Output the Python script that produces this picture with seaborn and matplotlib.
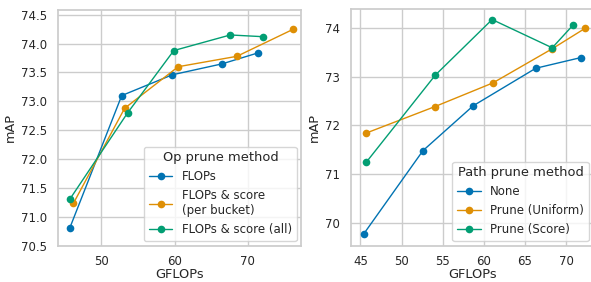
import matplotlib
matplotlib.use("Agg")
import matplotlib.pyplot as plt
import pandas as pd
import seaborn as sns

# Left panel: op pruning
OP_METHODS = ["FLOPs", "FLOPs & score\n(per bucket)", "FLOPs & score (all)"]
OP_GFLOPS = [
    [45.7, 52.8, 59.7, 66.5, 71.4],
    [46.2, 53.2, 60.5, 68.5, 76.2],
    [45.7, 53.6, 59.9, 67.6, 72.1],
]
OP_MAP = [
    [70.80, 73.10, 73.46, 73.65, 73.84],
    [71.23, 72.88, 73.60, 73.78, 74.25],
    [71.30, 72.80, 73.88, 74.15, 74.12],
]

# Right panel: path pruning
PATH_METHODS = ["None", "Prune (Uniform)", "Prune (Score)"]
PATH_GFLOPS = [
    [45.4, 52.6, 58.7, 66.3, 71.8],
    [45.7, 54.0, 61.1, 68.3, 72.3],
    [45.7, 54.1, 61.0, 68.3, 70.8],
]
PATH_MAP = [
    [69.77, 71.48, 72.40, 73.17, 73.39],
    [71.84, 72.38, 72.87, 73.57, 73.99],
    [71.24, 73.03, 74.17, 73.59, 74.05],
]


def to_long(methods, xs, ys, col):
    rows = []
    for m, xv, yv in zip(methods, xs, ys):
        for x, y in zip(xv, yv):
            rows.append({col: m, "GFLOPs": x, "mAP": y})
    return pd.DataFrame(rows)


sns.set_theme(style="whitegrid", palette="colorblind")
plt.rcParams["font.family"] = ["DejaVu Sans"]

fig = plt.figure(figsize=(5.91, 2.82), dpi=100)
ax1 = fig.add_axes([0.098, 0.129, 0.412, 0.835])
ax2 = fig.add_axes([0.594, 0.129, 0.41, 0.838])

panels = [
    (ax1, to_long(OP_METHODS, OP_GFLOPS, OP_MAP, "Op prune method"),
     "Op prune method", OP_METHODS),
    (ax2, to_long(PATH_METHODS, PATH_GFLOPS, PATH_MAP, "Path prune method"),
     "Path prune method", PATH_METHODS),
]

for ax, df, col, order in panels:
    sns.lineplot(
        data=df, x="GFLOPs", y="mAP", hue=col, hue_order=order,
        marker="o", markersize=5.5, markeredgewidth=0, linewidth=1,
        sort=False, ax=ax,
    )
    ax.tick_params(axis="x", labelsize=8.5, pad=1)
    ax.tick_params(axis="y", labelsize=8.5, pad=2)
    ax.set_xlabel("GFLOPs", fontsize=9.3, labelpad=0)
    ax.set_ylabel("mAP", fontsize=9.3, labelpad=3)
    ax.legend(title=col, loc="lower right", fontsize=8.5,
              title_fontsize=9.4, borderpad=0.4, labelspacing=0.5,
              handlelength=2, handletextpad=0.8, borderaxespad=0.4)

ax1.set_xlim(44.1, 77.3)
ax1.set_ylim(70.5, 74.58)
ax1.set_xticks([50, 60, 70])
ax1.set_yticks([70.5, 71.0, 71.5, 72.0, 72.5, 73.0, 73.5, 74.0, 74.5])
ax1.set_yticklabels([f"{v:.1f}" for v in ax1.get_yticks()])

ax2.set_xlim(43.86, 73.3)
ax2.set_ylim(69.53, 74.38)
ax2.set_xticks([45, 50, 55, 60, 65, 70])
ax2.set_yticks([70, 71, 72, 73, 74])

fig.savefig("out.png", dpi=100)
